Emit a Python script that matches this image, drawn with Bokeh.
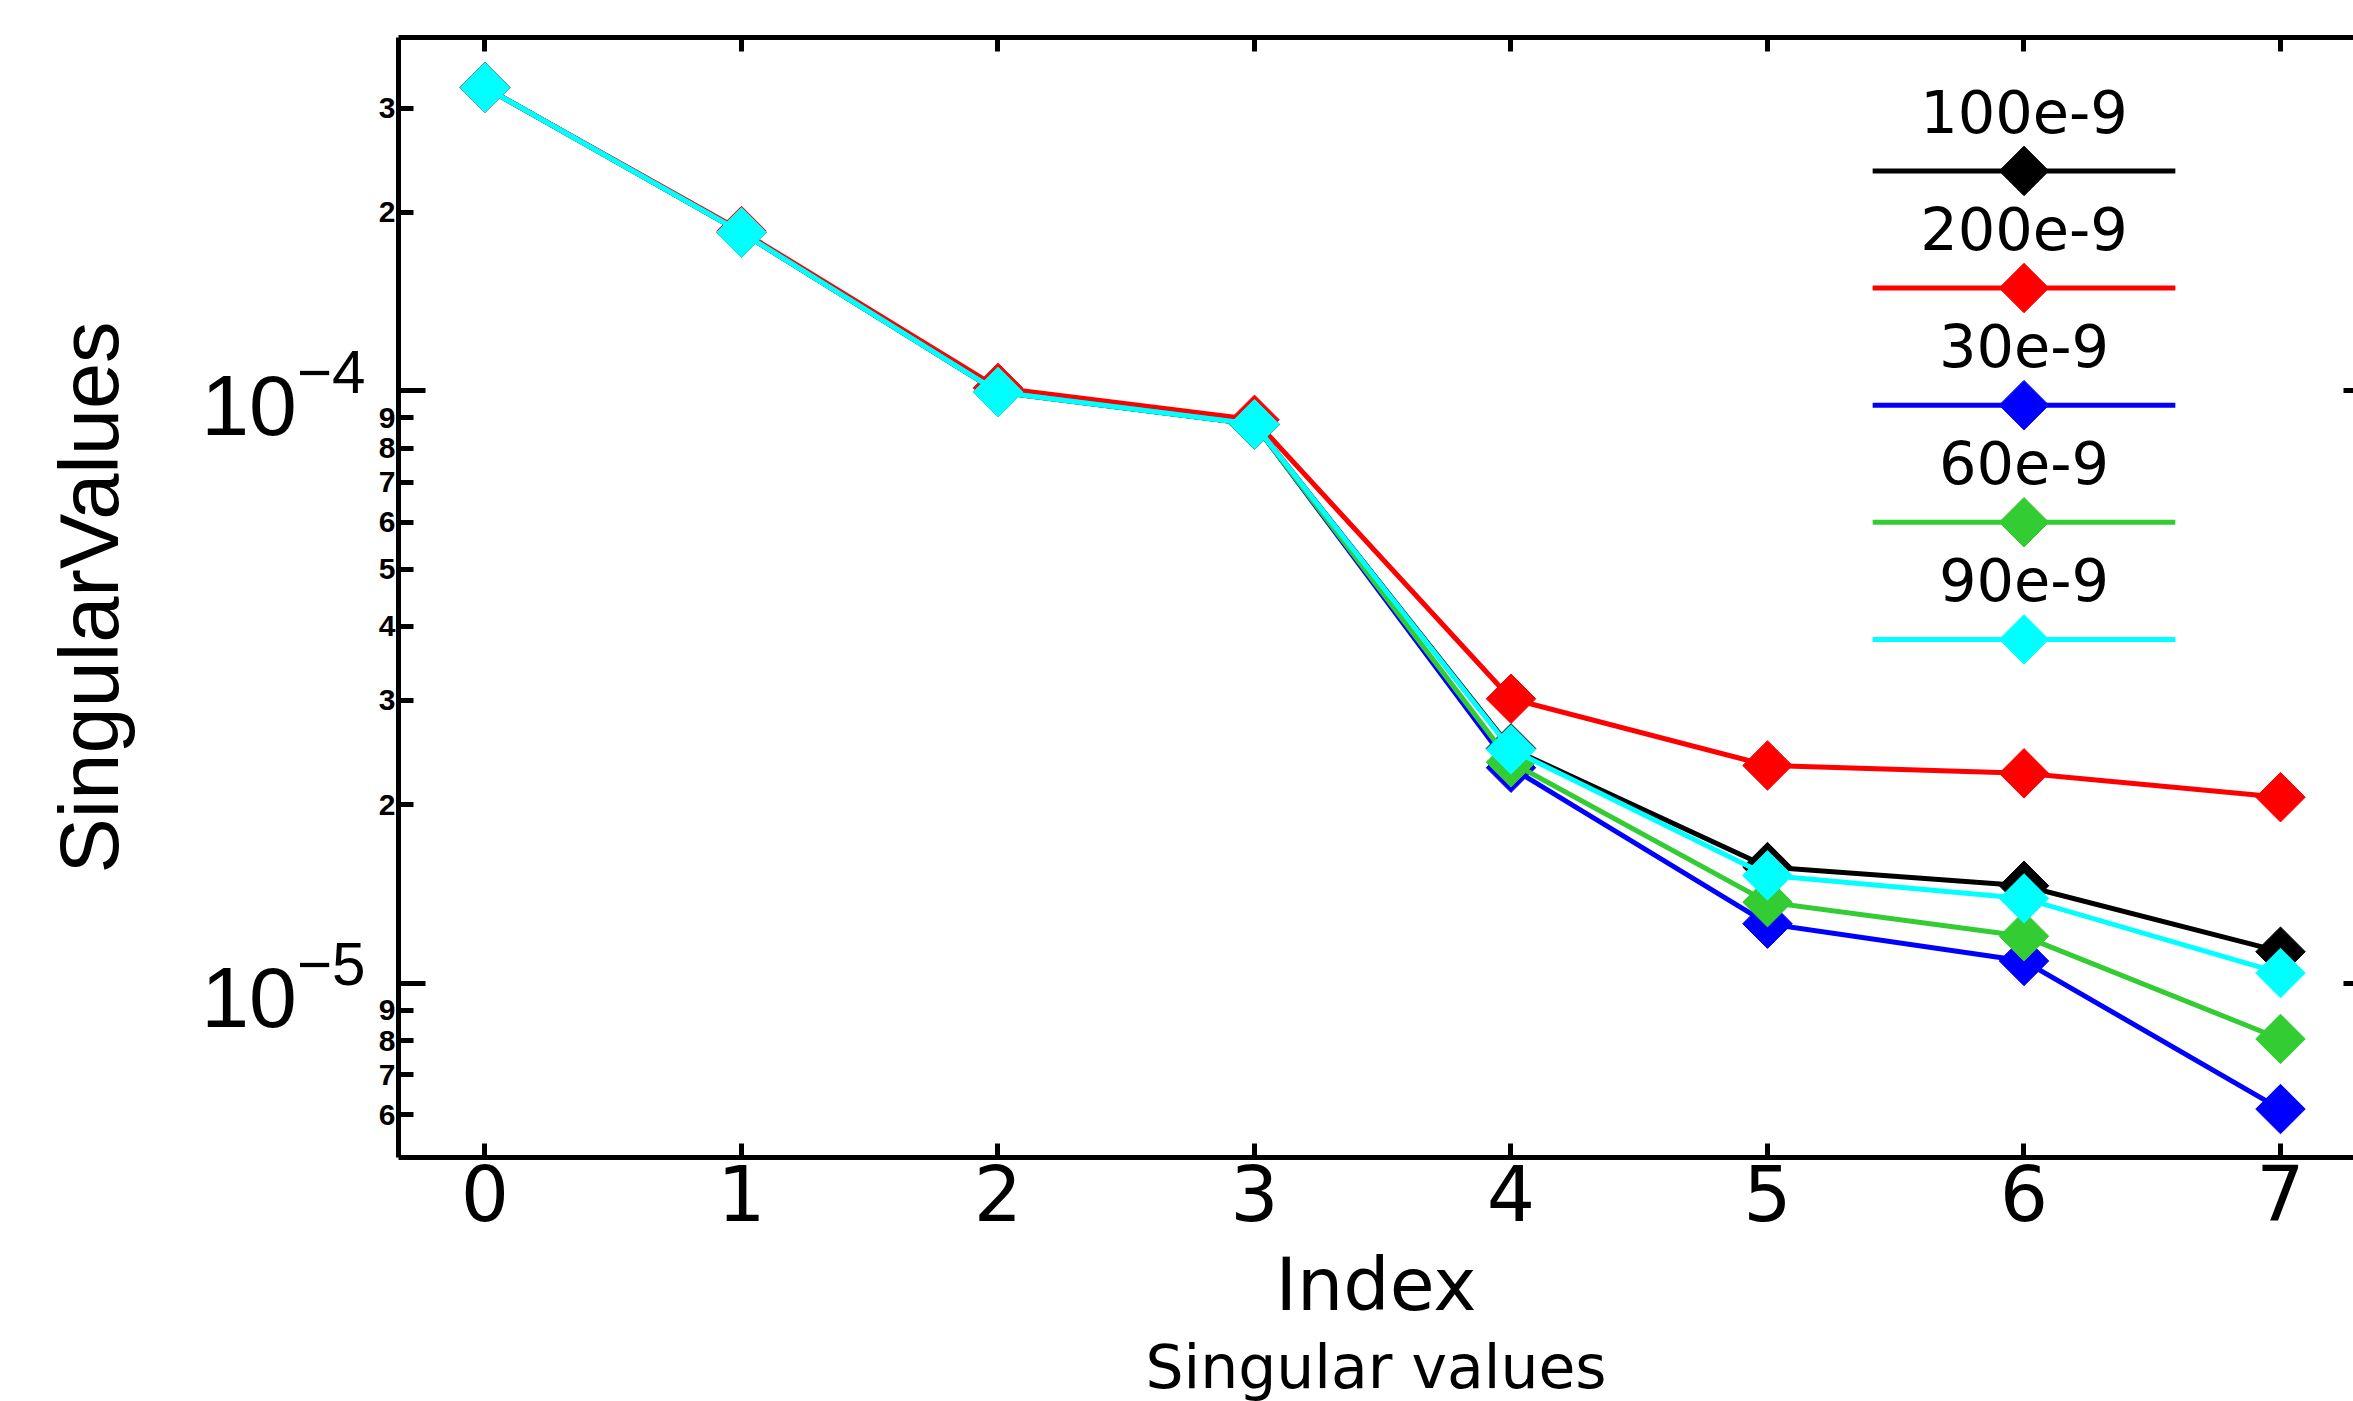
import numpy as np
from bokeh.plotting import figure
from bokeh.models import (LogAxis, LinearAxis, FixedTicker, CustomJSTickFormatter,
                          LogTickFormatter, Range1d, ColumnDataSource)
from bokeh.core.properties import value
from bokeh.embed import file_html
from bokeh.resources import INLINE

# ---------------- data ----------------
index = [0, 1, 2, 3, 4, 5, 6, 7]
series_labels = ["100e-9", "200e-9", "30e-9", "60e-9", "90e-9"]
series_colors = ["#000000", "#ff0000", "#0000ff", "#33cc33", "#00ffff"]
sv_100e9 = [3.25e-4, 1.85e-4, 9.95e-5, 8.78e-5, 2.49e-5, 1.57e-5, 1.46e-5, 1.13e-5]
sv_200e9 = [3.25e-4, 1.86e-4, 1.011e-4, 8.93e-5, 3.02e-5, 2.33e-5, 2.26e-5, 2.06e-5]
sv_30e9 = [3.25e-4, 1.85e-4, 9.95e-5, 8.78e-5, 2.31e-5, 1.26e-5, 1.09e-5, 6.13e-6]
sv_60e9 = [3.25e-4, 1.85e-4, 9.95e-5, 8.78e-5, 2.36e-5, 1.37e-5, 1.20e-5, 8.05e-6]
sv_90e9 = [3.25e-4, 1.85e-4, 9.95e-5, 8.78e-5, 2.48e-5, 1.52e-5, 1.39e-5, 1.04e-5]
series_values = [sv_100e9, sv_200e9, sv_30e9, sv_60e9, sv_90e9]
title_text = "Singular values"

# ---------------- figure ----------------
W, H = 2353, 1401
B_LEFT, B_TOP, B_BOTTOM = 398, 37, 243
X0, X1 = -0.3372, 7.2846
Y0, Y1 = 5.078e-6, 3.946e-4

p = figure(width=W, height=H, y_axis_type="log",
           x_range=Range1d(X0, X1), y_range=Range1d(Y0, Y1),
           output_backend="svg", toolbar_location=None,
           min_border_left=B_LEFT, min_border_top=B_TOP, min_border_right=0,
           min_border_bottom=B_BOTTOM, title=title_text, title_location="below")
p.outline_line_color = None
p.grid.visible = False
p.background_fill_color = "white"
p.border_fill_color = "white"

p.title.text_font = "DejaVu Sans"
p.title.text_font_size = "60px"
p.title.text_font_style = "normal"
p.title.text_color = "black"
p.title.align = "center"
p.title.offset = 10
p.title.standoff = 0

AX_W = 5
# bottom x axis
xax = p.xaxis[0]
xax.ticker = FixedTicker(ticks=index, minor_ticks=[])
xax.axis_line_width = AX_W
xax.major_tick_line_width = AX_W
xax.major_tick_in = 14
xax.major_tick_out = 0
xax.major_label_text_font = "DejaVu Sans"
xax.major_label_text_font_size = "76px"
xax.major_label_text_color = "black"
xax.major_label_standoff = 7
xax.axis_label = "Index"
xax.axis_label_text_font = "DejaVu Sans"
xax.axis_label_text_font_size = "73px"
xax.axis_label_text_font_style = "normal"
xax.axis_label_text_color = "black"
xax.axis_label_standoff = 18

# top axis (unlabelled ticks)
top = LinearAxis(ticker=FixedTicker(ticks=[], minor_ticks=index))
top.axis_line_width = AX_W
top.minor_tick_line_width = AX_W
top.minor_tick_in = 14
top.minor_tick_out = 0
top.major_tick_in = 0
top.major_tick_out = 0
top.major_label_standoff = 0
p.add_layout(top, "above")

# inner left axis: small bold mantissa labels
decades = [1e-6, 1e-5, 1e-4]
mant_ticks = [m * d for d in decades for m in range(2, 10) if Y0 <= m * d <= Y1]
dec_ticks = [d for d in decades if Y0 <= d <= Y1]
yax = p.yaxis[0]
yax.ticker = FixedTicker(ticks=mant_ticks, minor_ticks=dec_ticks)
yax.formatter = CustomJSTickFormatter(code="""
const e = Math.floor(Math.log10(tick) + 1e-9);
return String(Math.round(tick / Math.pow(10, e)));
""")
yax.axis_line_width = AX_W
yax.major_tick_line_width = AX_W
yax.minor_tick_line_width = AX_W
yax.major_tick_in = 15
yax.major_tick_out = 0
yax.minor_tick_in = 27
yax.minor_tick_out = 0
yax.major_label_text_font = "Liberation Sans"
yax.major_label_text_font_style = "bold"
yax.major_label_text_font_size = "30px"
yax.major_label_text_color = "black"
yax.major_label_standoff = 3

# outer left axis: decade labels + axis title
outer = LogAxis(ticker=FixedTicker(ticks=dec_ticks, minor_ticks=[]),
                formatter=LogTickFormatter())
outer.axis_line_color = None
outer.major_tick_line_color = None
outer.minor_tick_line_color = None
outer.major_tick_in = 0
outer.major_tick_out = 0
outer.minor_tick_in = 0
outer.minor_tick_out = 0
outer.major_label_text_font = "Liberation Sans"
outer.major_label_text_font_size = "86px"
outer.major_label_text_color = "black"
outer.major_label_standoff = 10
outer.axis_label = "SingularValues"
outer.axis_label_text_font = "Liberation Sans"
outer.axis_label_text_font_size = "83px"
outer.axis_label_text_font_style = "normal"
outer.axis_label_text_color = "black"
outer.axis_label_standoff = 62
p.add_layout(outer, "left")

# right axis: decade tick stubs only (unlabelled)
right = LogAxis(ticker=FixedTicker(ticks=[], minor_ticks=dec_ticks))
right.axis_line_color = None
right.minor_tick_line_width = AX_W
right.minor_tick_in = 10
right.minor_tick_out = 0
right.major_tick_in = 0
right.major_tick_out = 0
right.major_label_standoff = 0
p.add_layout(right, "right")

# ---------------- series ----------------
MS = 35
LW = 5
for lab, col, vals in zip(series_labels, series_colors, series_values):
    src = ColumnDataSource(dict(x=index, y=vals))
    p.line("x", "y", source=src, line_color=col, line_width=LW)
    p.scatter("x", "y", source=src, marker="square", angle=np.pi / 4, size=MS,
              fill_color=col, line_color=col)

# ---------------- legend (label above sample) ----------------
LEG_X = 6.0
LEG_HALF = 0.59
LEG_LOG0 = -3.629
LEG_STEP = 0.1977
LEG_TXT = 0.101
for i, (lab, col) in enumerate(zip(series_labels, series_colors)):
    ly = 10 ** (LEG_LOG0 - i * LEG_STEP)
    ty = 10 ** (LEG_LOG0 - i * LEG_STEP + LEG_TXT)
    p.line([LEG_X - LEG_HALF, LEG_X + LEG_HALF], [ly, ly], line_color=col, line_width=LW)
    p.scatter([LEG_X], [ly], marker="square", angle=np.pi / 4, size=MS,
              fill_color=col, line_color=col)
    p.text([LEG_X], [ty], text=[lab], text_font=value("DejaVu Sans"),
           text_font_size="59px", text_align="center", text_baseline="middle",
           text_color="black")

open("out.html", "w").write(file_html(p, INLINE))
